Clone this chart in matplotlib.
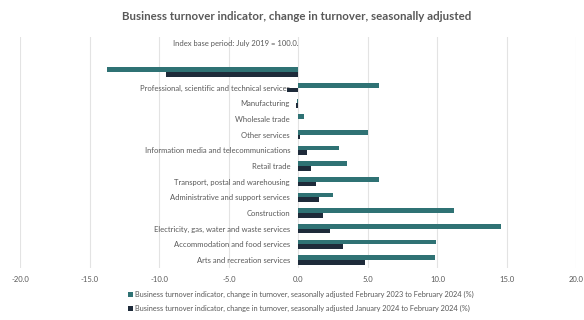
import matplotlib
matplotlib.use("Agg")
import matplotlib.pyplot as plt
import numpy as np

categories = [
    "Mining",
    "Professional, scientific and technical services",
    "Manufacturing",
    "Wholesale trade",
    "Other services",
    "Information media and telecommunications",
    "Retail trade",
    "Transport, postal and warehousing",
    "Administrative and support services",
    "Construction",
    "Electricity, gas, water and waste services",
    "Accommodation and food services",
    "Arts and recreation services",
]
annual_change = [-13.8, 5.8, -0.1, 0.4, 5.0, 2.9, 3.5, 5.8, 2.5, 11.2, 14.6, 9.9, 9.8]
monthly_change = [-9.5, -0.8, -0.2, 0.0, 0.1, 0.6, 0.9, 1.3, 1.5, 1.8, 2.3, 3.2, 4.8]
x_ticks = [-20, -15, -10, -5, 0, 5, 10, 15, 20]

series_labels = [
    "Business turnover indicator, change in turnover, seasonally adjusted February 2023 to February 2024 (%)",
    "Business turnover indicator, change in turnover, seasonally adjusted January 2024 to February 2024 (%)",
]
title = "Business turnover indicator, change in turnover, seasonally adjusted"
note = "Index base period: July 2019 = 100.0."

teal = "#2F7274"
navy = "#1E2B3A"
grey = "#595959"

plt.rcParams["font.family"] = ["Lato", "DejaVu Sans"]

fig = plt.figure(figsize=(5.84, 3.2), dpi=100)
ax = fig.add_axes([0.035, 0.163, 0.952, 0.72])

y = np.arange(len(categories))
h = 0.3
ax.barh(y - h / 2, annual_change, height=h, color=teal, label=series_labels[0], zorder=3)
ax.barh(y + h / 2, monthly_change, height=h, color=navy, label=series_labels[1], zorder=3)

# put the category axis on the zero line
ax.spines["left"].set_position(("data", 0))
for s in ["left", "right", "top", "bottom"]:
    ax.spines[s].set_visible(False)

ax.set_ylim(len(categories) - 0.5, -2.2)
ax.set_xlim(-20, 20)
ax.set_xticks(x_ticks)
ax.set_xticklabels([f"{v:.1f}" for v in x_ticks], fontsize=5.5, color=grey)
ax.set_yticks(y)
ax.set_yticklabels(categories, fontsize=5.5, color=grey)
ax.tick_params(axis="both", length=0)
ax.tick_params(axis="y", pad=6)
ax.tick_params(axis="x", pad=6)
ax.grid(axis="x", color="#E3E3E3", linewidth=0.8, zorder=0)
ax.set_axisbelow(True)

ax.text(-4.5, -1.8, note, fontsize=5.5, color=grey, ha="center", va="center")

fig.text(0.508, 0.948, title, fontsize=8.3, fontweight="bold", color=grey, ha="center", va="center")

handles, labels = ax.get_legend_handles_labels()
leg = fig.legend(handles, labels, loc="upper center", bbox_to_anchor=(0.515, 0.10),
                 ncol=1, frameon=False, fontsize=5.3, handlelength=0.7, handleheight=0.7,
                 handletextpad=0.2, labelspacing=0.9, borderaxespad=0)
for t in leg.get_texts():
    t.set_color(grey)

fig.savefig("out.png", dpi=100, facecolor="white")
